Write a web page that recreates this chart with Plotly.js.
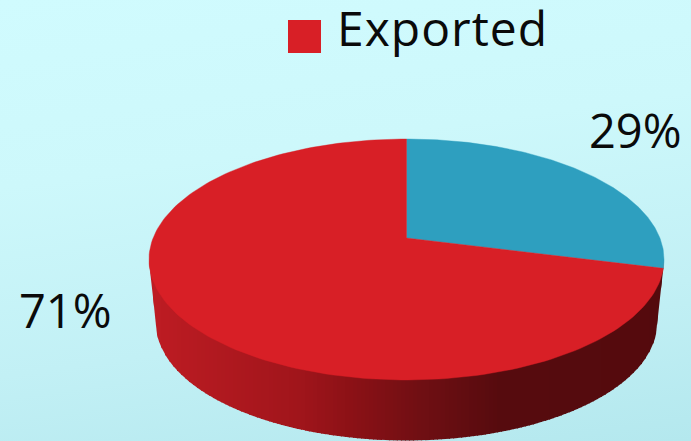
<!DOCTYPE html>
<html>
<head>
<meta charset="utf-8">
<script src="https://cdn.plot.ly/plotly-3.0.1.min.js"></script>
<style>
  html, body { margin: 0; padding: 0; width: 691px; height: 441px; overflow: hidden; }
  body { background: linear-gradient(172deg, #d0fbfe 0%, #cdf8fb 35%, #c2f0f5 70%, #b4e8ee 100%); }
  #chart { width: 691px; height: 441px; }
  .annotation-text[data-unformatted="Exported"] { letter-spacing: 1px; }
</style>
</head>
<body>
<div id="chart"></div>
<script>
// Share of production by destination
const categories = ['Exported', 'Other'];
const shares = [71, 29];
const sliceColors = ['#d81f26', '#2e9fbf'];
const sideStops = [[150, [190, 28, 35]], [300, [160, 21, 27]], [350, [140, 17, 22]], [420, [112, 15, 19]], [500, [86, 11, 14]], [700, [84, 10, 13]]];

// Disc geometry in plot units (the axes run in the same units as the canvas)
const cx = 406.5, apexY = 238, spreadY = 74.2, tilt = -0.1784, spreadX = 253.4;
const topRx = 257.5, topRy = 120.5, topMidY = 259.7;
const rimScale = 0.973, bottomMidY = 323.2;
const bottomRx = topRx * rimScale, bottomRy = topRy * rimScale;

// Perspective projection of a point on the disc rim, measured clockwise from twelve o'clock
function topPoint(deg) {
  const t = deg * Math.PI / 180, u = Math.sin(t), v = -Math.cos(t);
  const w = tilt * v + 1;
  return [cx + spreadX * u / w, (spreadY * v + apexY) / w];
}
function wedge(fromDeg, toDeg) {
  const xs = [cx], ys = [apexY];
  for (let d = fromDeg; d <= toDeg + 1e-6; d += (toDeg - fromDeg) / 180) {
    const p = topPoint(d);
    xs.push(p[0]); ys.push(p[1]);
  }
  xs.push(cx); ys.push(apexY);
  return { xs, ys };
}
function sideColor(x) {
  for (let i = 1; i < sideStops.length; i++) {
    const [x0, c0] = sideStops[i - 1], [x1, c1] = sideStops[i];
    if (x <= x1) {
      const f = Math.max(0, (x - x0) / (x1 - x0));
      return 'rgb(' + c0.map((c, j) => Math.round(c + f * (c1[j] - c))).join(',') + ')';
    }
  }
  return 'rgb(84,10,13)';
}

const total = shares.reduce((a, b) => a + b, 0);
const splitDeg = 360 * shares[1] / total;
const splitPoint = topPoint(splitDeg);
const leftEdge = [cx - topRx, topMidY + 2];

// Lower branches of the two rim ellipses, as a function of x
function lowerTop(x) {
  const q = (x - cx) / topRx;
  return topMidY + topRy * Math.sqrt(Math.max(0, 1 - q * q));
}
function lowerBottom(x) {
  const q = (x - cx) / bottomRx;
  const y = bottomMidY + bottomRy * Math.sqrt(Math.max(0, 1 - q * q));
  if (x < cx - bottomRx) {
    return leftEdge[1] + (x - leftEdge[0]) / (cx - bottomRx - leftEdge[0]) * (bottomMidY - leftEdge[1]);
  }
  if (x > cx + bottomRx) {
    return splitPoint[1] + (splitPoint[0] - x) / (splitPoint[0] - cx - bottomRx) * (lowerBottom(cx + bottomRx) - splitPoint[1]);
  }
  return y;
}

const traces = [];

// Outer wall of the disc, built from vertical bands that darken from left to right
const bandWidth = 4;
const wallStart = Math.floor(cx - topRx), wallEnd = Math.ceil(splitPoint[0]);
for (let x = wallStart; x < wallEnd; x += bandWidth) {
  const xs = [], top = [], bottom = [];
  const right = Math.min(x + bandWidth + 1, wallEnd);
  for (let px = x; px <= right; px += 1) {
    xs.push(px);
    top.push(lowerTop(px) - 2);
    bottom.push(lowerBottom(px));
  }
  const col = sideColor(x + bandWidth / 2);
  traces.push({
    type: 'scatter', mode: 'lines', fill: 'toself', fillcolor: col,
    x: xs.concat(xs.slice().reverse()), y: top.concat(bottom.slice().reverse()),
    line: { width: 0 }, hoverinfo: 'skip', showlegend: false
  });
}

// Top face slices
[[0, splitDeg, 1], [splitDeg, 360, 0]].forEach(([from, to, idx]) => {
  const w = wedge(from, to);
  traces.push({
    type: 'scatter', mode: 'lines', fill: 'toself', fillcolor: sliceColors[idx],
    x: w.xs, y: w.ys, line: { color: sliceColors[idx], width: 0.4 },
    name: categories[idx], hoverinfo: 'name', showlegend: false
  });
});

// Legend swatch
traces.push({
  type: 'scatter', mode: 'markers', x: [304.5], y: [36.5],
  marker: { symbol: 'square', size: 33, color: sliceColors[0] },
  hoverinfo: 'skip', showlegend: false
});

const labelFont = { family: '"Open Sans", sans-serif', size: 47, color: '#0a0a0a' };
const layout = {
  width: 691, height: 441,
  margin: { l: 0, r: 0, t: 0, b: 0 },
  paper_bgcolor: 'rgba(0,0,0,0)', plot_bgcolor: 'rgba(0,0,0,0)',
  xaxis: { range: [0, 691], visible: false, fixedrange: true },
  yaxis: { range: [441, 0], visible: false, fixedrange: true },
  showlegend: false,
  annotations: [
    { x: 335, y: 27, text: categories[0], showarrow: false, xanchor: 'left', yanchor: 'middle',
      font: Object.assign({}, labelFont, { size: 48 }) },
    { x: 635, y: 130, text: shares[1] + '%', showarrow: false, xanchor: 'center', yanchor: 'middle', font: labelFont },
    { x: 65, y: 310, text: shares[0] + '%', showarrow: false, xanchor: 'center', yanchor: 'middle', font: labelFont }
  ]
};

Plotly.newPlot('chart', traces, layout, { displayModeBar: false, staticPlot: true });
</script>
</body>
</html>
